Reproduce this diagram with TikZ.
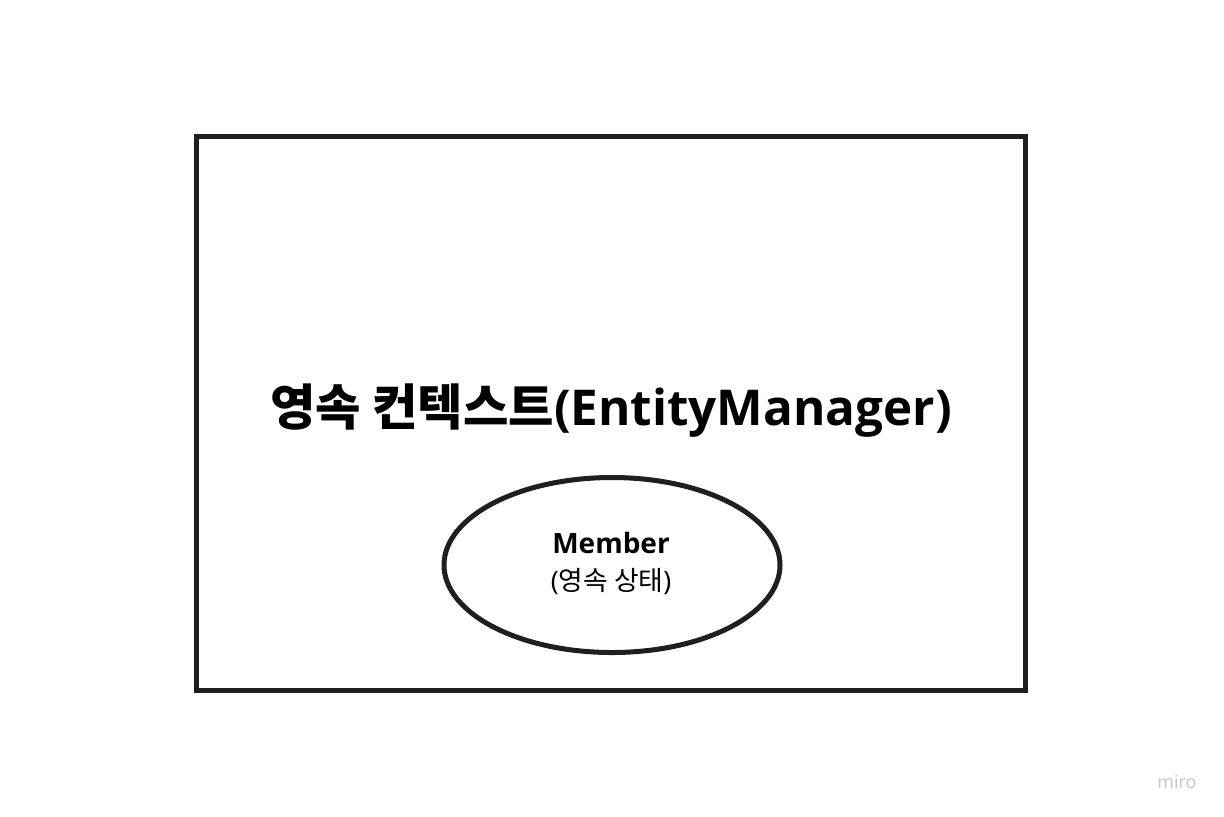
\documentclass[tikz,border=0pt]{standalone}
\usepackage{fontspec}
\setmainfont{Open Sans}
\newfontfamily\krfont{Noto Sans CJK KR}
\usetikzlibrary{shapes.geometric}

\begin{document}
\begin{tikzpicture}[x=0.5pt,y=-0.5pt,
  ctxbox/.style={draw=black!88,line width=2.5pt,minimum width=414.5pt,minimum height=277pt,inner sep=0pt},
  entity/.style={ellipse,draw=black!88,line width=2.5pt,minimum width=168pt,minimum height=87.5pt,inner sep=0pt,align=center}]
\useasboundingbox (0,0) rectangle (1224,816);
\node[ctxbox] (ctx) at (611,413.5) {};
\node[font=\fontsize{24.7}{30}\selectfont\bfseries] (title) at (611,411) {{\krfont 영속 컨텍스트}(EntityManager)};
\node[entity] (member) at (612,565) {};
\node[font=\fontsize{14}{17}\selectfont\bfseries] (name) at (611,543) {Member};
\node[font=\fontsize{13.4}{16}\selectfont] (state) at (611,582) {({\krfont 영속 상태})};
\node[font=\fontsize{9}{11}\selectfont,text=black!22] (miro) at (1177,782) {miro};
\end{tikzpicture}
\end{document}
